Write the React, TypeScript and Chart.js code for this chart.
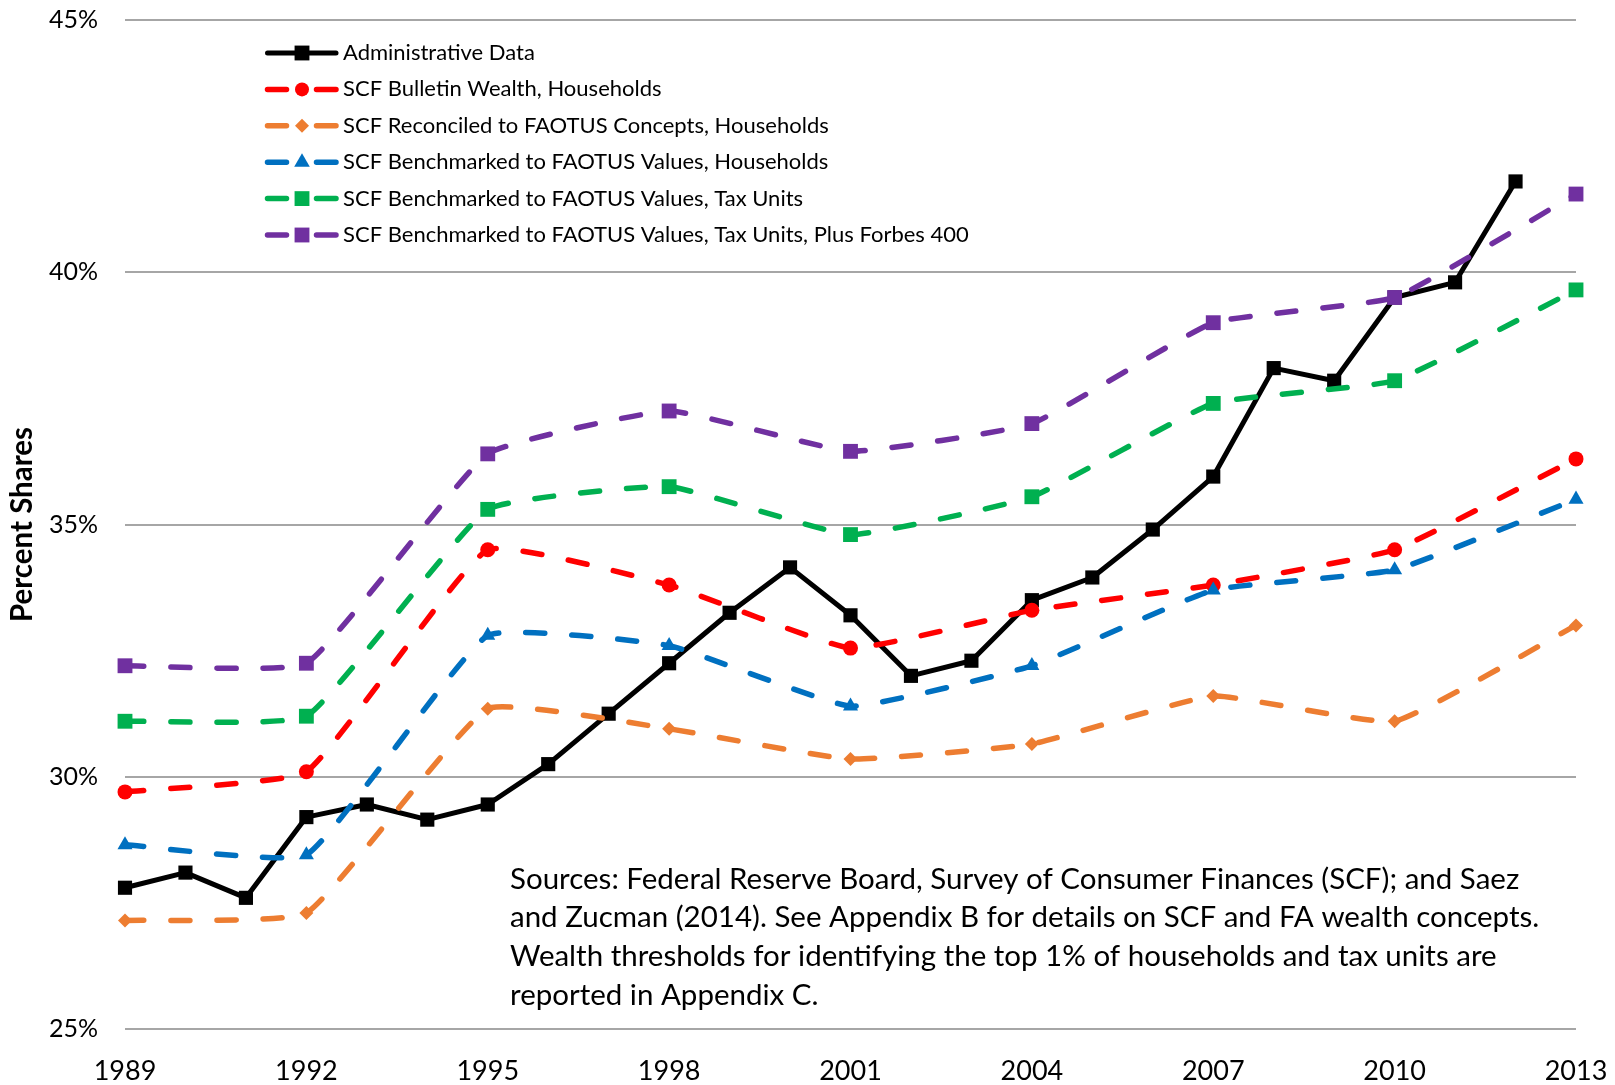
import React, { useEffect, useRef } from "react";
import { Chart, registerables } from "chart.js";

Chart.register(...registerables);

const adminYears = [1989, 1990, 1991, 1992, 1993, 1994, 1995, 1996, 1997, 1998, 1999, 2000, 2001, 2002, 2003, 2004, 2005, 2006, 2007, 2008, 2009, 2010, 2011, 2012];
const adminData = [27.8, 28.1, 27.6, 29.2, 29.45, 29.15, 29.45, 30.25, 31.25, 32.25, 33.25, 34.15, 33.2, 32.0, 32.3, 33.5, 33.95, 34.9, 35.95, 38.1, 37.85, 39.5, 39.8, 41.8];

const scfYears = [1989, 1992, 1995, 1998, 2001, 2004, 2007, 2010, 2013];
const scfBulletin = [29.7, 30.1, 34.5, 33.8, 32.55, 33.3, 33.8, 34.5, 36.3];
const scfReconciled = [27.15, 27.3, 31.35, 30.95, 30.35, 30.65, 31.6, 31.1, 33.0];
const scfBenchHouseholds = [28.65, 28.45, 32.8, 32.6, 31.4, 32.2, 33.7, 34.1, 35.5];
const scfBenchTaxUnits = [31.1, 31.2, 35.3, 35.75, 34.8, 35.55, 37.4, 37.85, 39.65];
const scfBenchForbes = [32.2, 32.25, 36.4, 37.25, 36.45, 37.0, 39.0, 39.5, 41.55];

const seriesLabels = [
  "Administrative Data",
  "SCF Bulletin Wealth, Households",
  "SCF Reconciled to FAOTUS Concepts, Households",
  "SCF Benchmarked to FAOTUS Values, Households",
  "SCF Benchmarked to FAOTUS Values, Tax Units",
  "SCF Benchmarked to FAOTUS Values, Tax Units, Plus Forbes 400",
];

const xTicks = [1989, 1992, 1995, 1998, 2001, 2004, 2007, 2010, 2013];
const yTicks = [25, 30, 35, 40, 45];

const noteLines = [
  "Sources: Federal Reserve Board, Survey of Consumer Finances (SCF); and Saez",
  "and Zucman (2014). See Appendix B for details on SCF and FA wealth concepts.",
  "Wealth thresholds for identifying the top 1% of households and tax units are",
  "reported in Appendix C.",
];

const FONT = "Lato, 'Open Sans', sans-serif";

const toPoints = (xs: number[], ys: number[]) => xs.map((x, i) => ({ x, y: ys[i] }));

function drawMarker(ctx: CanvasRenderingContext2D, style: string, r: number, x: number, y: number, color: string) {
  ctx.save();
  ctx.fillStyle = color;
  ctx.beginPath();
  if (style === "circle") {
    ctx.arc(x, y, r, 0, Math.PI * 2);
  } else if (style === "rect") {
    const s = r * Math.SQRT1_2;
    ctx.rect(x - s, y - s, 2 * s, 2 * s);
  } else if (style === "rectRot") {
    ctx.moveTo(x, y - r);
    ctx.lineTo(x + r, y);
    ctx.lineTo(x, y + r);
    ctx.lineTo(x - r, y);
    ctx.closePath();
  } else if (style === "triangle") {
    ctx.moveTo(x, y - r);
    ctx.lineTo(x + r * 0.866, y + r * 0.5);
    ctx.lineTo(x - r * 0.866, y + r * 0.5);
    ctx.closePath();
  }
  ctx.fill();
  ctx.restore();
}

const legendPlugin = {
  id: "customLegend",
  afterDatasetsDraw(chart: any) {
    const ctx = chart.ctx as CanvasRenderingContext2D;
    const startY = 53;
    const rowH = 36.4;
    chart.data.datasets.forEach((ds: any, i: number) => {
      const y = startY + i * rowH;
      ctx.save();
      ctx.strokeStyle = ds.borderColor;
      ctx.lineWidth = ds.borderWidth;
      ctx.lineCap = "round";
      ctx.beginPath();
      if (ds.borderDash && ds.borderDash.length) {
        ctx.moveTo(267.5, y);
        ctx.lineTo(286.5, y);
        ctx.moveTo(316.5, y);
        ctx.lineTo(336, y);
      } else {
        ctx.moveTo(267.5, y);
        ctx.lineTo(336, y);
      }
      ctx.stroke();
      ctx.restore();
      const legR = ds.pointStyle === "rect" ? 10.5 : ds.pointStyle === "triangle" ? 9 : 7;
      drawMarker(ctx, ds.pointStyle, legR, 302, y, ds.pointBackgroundColor);
      ctx.save();
      ctx.fillStyle = "#000";
      ctx.font = `22px ${FONT}`;
      ctx.textBaseline = "middle";
      ctx.textAlign = "left";
      ctx.fillText(ds.label, 343, y);
      ctx.restore();
    });
  },
};

const notePlugin = {
  id: "noteText",
  afterDraw(chart: any) {
    const ctx = chart.ctx as CanvasRenderingContext2D;
    ctx.save();
    ctx.fillStyle = "#000";
    ctx.font = `29.5px ${FONT}`;
    ctx.textBaseline = "middle";
    ctx.textAlign = "left";
    noteLines.forEach((t, i) => ctx.fillText(t, 510, 879 + i * 38.7));
    ctx.restore();
  },
};

function makeDataset(label: string, xs: number[], ys: number[], color: string, pointStyle: string, radius: number, dashed: boolean, order: number) {
  return {
    label,
    data: toPoints(xs, ys),
    borderColor: color,
    backgroundColor: color,
    pointBackgroundColor: color,
    pointBorderColor: color,
    pointBorderWidth: 0,
    pointStyle,
    pointRadius: radius,
    borderWidth: dashed ? 5.5 : 5,
    borderDash: dashed ? [19, 27] : [],
    borderCapStyle: dashed ? "round" : "butt",
    borderJoinStyle: "round",
    tension: dashed ? 0.12 : 0,
    fill: false,
    clip: false,
    order,
  };
}

export default function App() {
  const canvasRef = useRef<HTMLCanvasElement | null>(null);

  useEffect(() => {
    if (!canvasRef.current) return;
    const chart = new Chart(canvasRef.current, {
      type: "line",
      data: {
        datasets: [
          makeDataset(seriesLabels[0], adminYears, adminData, "#000000", "rect", 10, false, 6),
          makeDataset(seriesLabels[1], scfYears, scfBulletin, "#FF0000", "circle", 7.5, true, 5),
          makeDataset(seriesLabels[2], scfYears, scfReconciled, "#ED7D31", "rectRot", 7, true, 4),
          makeDataset(seriesLabels[3], scfYears, scfBenchHouseholds, "#0070C0", "triangle", 8.7, true, 3),
          makeDataset(seriesLabels[4], scfYears, scfBenchTaxUnits, "#00B050", "rect", 10.5, true, 2),
          makeDataset(seriesLabels[5], scfYears, scfBenchForbes, "#7030A0", "rect", 10.5, true, 1),
        ] as any,
      },
      options: {
        animation: false,
        responsive: false,
        layout: { padding: { top: 20, right: 39, left: 0, bottom: 0 } },
        plugins: {
          legend: { display: false },
          tooltip: { enabled: false },
          title: { display: false },
        },
        scales: {
          x: {
            type: "linear",
            min: xTicks[0],
            max: xTicks[xTicks.length - 1],
            afterBuildTicks: (s: any) => {
              s.ticks = xTicks.map((v) => ({ value: v }));
            },
            afterFit: (s: any) => {
              s.height = 56;
              s.paddingLeft = 0;
              s.paddingRight = 0;
            },
            ticks: {
              callback: (v: any) => String(v),
              font: { family: FONT, size: 27 },
              color: "#000",
              padding: 26,
              maxRotation: 0,
              autoSkip: false,
            },
            grid: { display: false, drawTicks: false },
            border: { display: false },
          },
          y: {
            min: yTicks[0],
            max: yTicks[yTicks.length - 1],
            afterBuildTicks: (s: any) => {
              s.ticks = yTicks.map((v) => ({ value: v }));
            },
            afterFit: (s: any) => {
              s.width = 125;
              s.paddingTop = 0;
              s.paddingBottom = 0;
            },
            ticks: {
              callback: (v: any) => `${v}%`,
              font: { family: FONT, size: 25 },
              color: "#000",
              padding: 27,
            },
            grid: { color: "#a6a6a6", lineWidth: 2, drawTicks: false },
            border: { display: false },
            title: {
              display: true,
              text: "Percent Shares",
              color: "#000",
              font: { family: FONT, size: 29.5, weight: "bold" },
              padding: { top: 5, bottom: 0 },
            },
          },
        },
      } as any,
      plugins: [legendPlugin, notePlugin],
    });
    return () => chart.destroy();
  }, []);

  return (
    <div style={{ position: "absolute", left: 0, top: 0, width: 1615, height: 1085, background: "#fff" }}>
      <canvas ref={canvasRef} width={1615} height={1085} style={{ display: "block" }} />
    </div>
  );
}
